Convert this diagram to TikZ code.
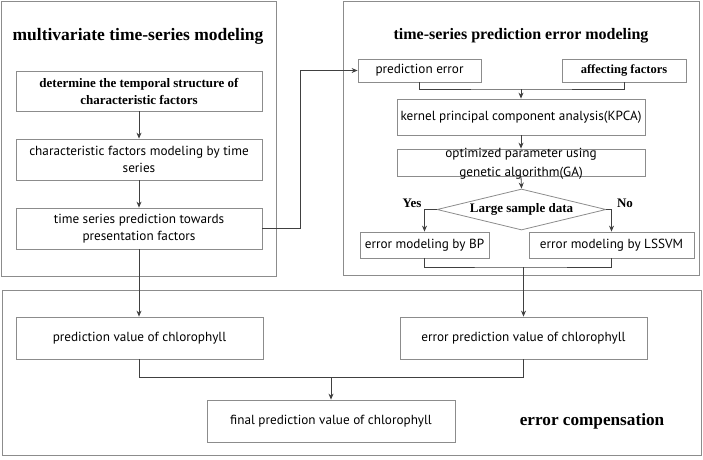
\documentclass[tikz,border=0pt]{standalone}
\usepackage{fontspec}
\setmainfont{Liberation Serif}
\newfontfamily\boxfont{PT Sans}
\usetikzlibrary{shapes.geometric,arrows.meta}
\definecolor{bordergray}{HTML}{8C8C8C}
\definecolor{linegray}{HTML}{404040}
\tikzset{
  panel/.style={draw=bordergray, line width=0.8pt},
  box/.style={draw=bordergray, line width=0.8pt, rectangle, inner sep=0pt, align=center, font=\boxfont\fontsize{13.2}{17}\selectfont, text=black},
  sbox/.style={box, font=\bfseries\fontsize{12.5}{17}\selectfont},
  nbox/.style={box, font=\boxfont\fontsize{13.2}{15}\selectfont},
  dia/.style={draw=bordergray, line width=0.8pt, diamond, aspect=4.1, inner sep=0pt, font=\bfseries\fontsize{13}{15}\selectfont},
  title/.style={font=\bfseries\fontsize{16}{18}\selectfont, inner sep=0pt},
  lab/.style={font=\bfseries\fontsize{13}{15}\selectfont, inner sep=0pt},
  conn/.style={draw=linegray, line width=0.8pt},
  arr/.style={conn, -{Stealth[length=6pt,width=5pt]}}
}
\begin{document}
\begin{tikzpicture}[x=1pt,y=-1pt]
\useasboundingbox (0,0) rectangle (703,459);
% panels
\draw[panel] (1,1) rectangle (276,276);
\draw[panel] (343,1) rectangle (699,275);
\draw[panel] (2,290) rectangle (701,455);
% titles
\node[title, font=\bfseries\fontsize{17.5}{20}\selectfont] (t1) at (138,36) {multivariate time-series modeling};
\node[title] (t2) at (521,36) {time-series prediction error modeling};
\node[title, font=\bfseries\fontsize{17.2}{20}\selectfont] (t3) at (592,421) {error compensation};
% left boxes
\node[sbox, minimum width=246pt, minimum height=40pt, font=\bfseries\fontsize{13}{17}\selectfont] (b1) at (139,91) {determine the temporal structure of\\characteristic factors};
\node[box, minimum width=246pt, minimum height=41pt] (b2) at (139,159.5) {characteristic factors modeling by time\\series};
\node[box, minimum width=246pt, minimum height=41pt] (b3) at (139,228.5) {time series prediction towards\\presentation factors};
% right boxes
\node[box, minimum width=123pt, minimum height=23pt] (pe) at (419.5,70.5) {prediction error};
\node[sbox, minimum width=124pt, minimum height=23pt] (af) at (624,70.5) {affecting factors};
\node[box, minimum width=248pt, minimum height=36pt] (kp) at (521,117) {kernel principal component analysis(KPCA)};
\node[box, minimum width=248pt, minimum height=27pt] (ga) at (521,162.5) {};
\node[box, draw=none, font=\boxfont\fontsize{13.2}{19}\selectfont] (gat) at (521,164) {optimized parameter using\\genetic algorithm(GA)};
\node[dia, minimum width=169pt, minimum height=41pt] (d) at (521.5,209.5) {Large sample data};
\node[lab] (yes) at (412,203) {Yes};
\node[lab] (no) at (625,203) {No};
\node[box, minimum width=129pt, minimum height=26pt] (bp) at (424.5,245) {error modeling by BP};
\node[box, minimum width=165pt, minimum height=26pt] (ls) at (611.5,245) {error modeling by LSSVM};
% bottom boxes
\node[nbox, minimum width=247pt, minimum height=42pt] (pv) at (139.5,338) {prediction value of chlorophyll};
\node[nbox, minimum width=247pt, minimum height=42pt] (ev) at (523.5,338) {error prediction value of chlorophyll};
\node[nbox, minimum width=248pt, minimum height=42pt] (fv) at (331,421) {final prediction value of chlorophyll};
% coordinates
\coordinate (j1) at (521,89);
\coordinate (j2) at (523.5,267);
\coordinate (j3) at (331,377);
\coordinate (c1) at (300,228.5);
% connectors
\draw[arr] (b1) -- (b2);
\draw[arr] (b2) -- (b3);
\draw[arr] (b3.east) -- (c1) |- (pe.west);
\draw[conn] (pe.south) |- (j1) -| (af.south);
\draw[arr] (j1) -- (kp.north);
\draw[arr] (kp) -- (ga);
\draw[arr] (ga.south) -- (d.north);
\draw[arr] (d.west) -| (bp.north);
\draw[arr] (d.east) -| (ls.north);
\draw[conn] (bp.south) |- (j2) -| (ls.south);
\draw[arr] (j2) -- (ev.north);
\draw[arr] (b3.south) -- (b3.south |- pv.north);
\draw[conn] (pv.south) |- (j3) -| (ev.south);
\draw[arr] (j3) -- (fv.north);
\end{tikzpicture}
\end{document}
